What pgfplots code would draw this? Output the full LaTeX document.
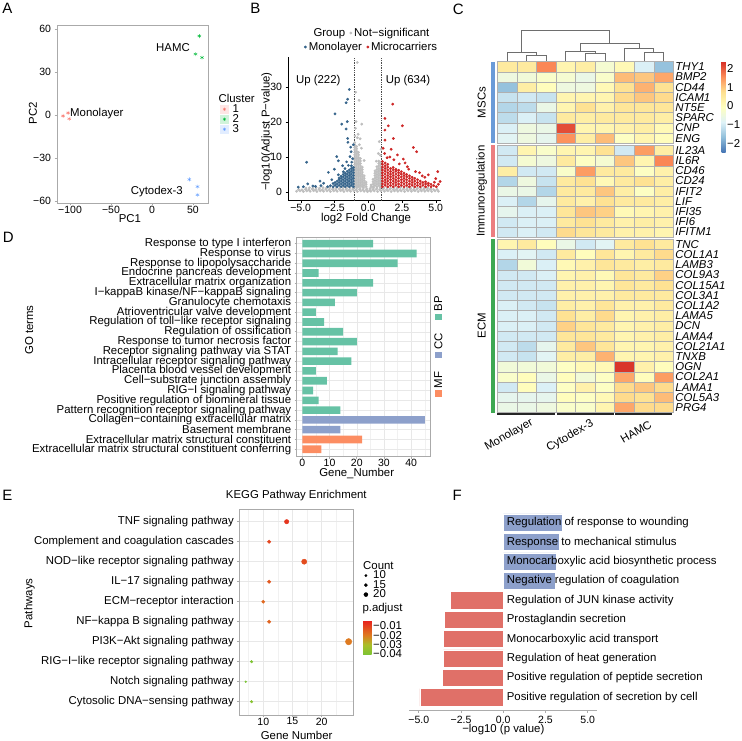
\documentclass[border=0pt]{standalone}
\usepackage{fontspec}
\setmainfont{Liberation Sans}
\usepackage{pgfplots}
\pgfplotsset{compat=1.18}
\newcommand\fs{\fontsize{11.4}{13}\selectfont}
\newcommand\ft{\fontsize{10.5}{12}\selectfont}
\newcommand\fL{\fontsize{15}{16}\selectfont}
\definecolor{gA1}{RGB}{248,118,109}
\definecolor{gA2}{RGB}{0,186,56}
\definecolor{gA3}{RGB}{97,156,255}
\definecolor{vgrey}{RGB}{190,190,190}
\definecolor{vblue}{RGB}{54,100,139}
\definecolor{vred}{RGB}{205,38,38}
\definecolor{bpc}{RGB}{102,194,165}
\definecolor{ccc}{RGB}{141,160,203}
\definecolor{mfc}{RGB}{252,141,98}
\definecolor{fblue}{RGB}{141,160,203}
\definecolor{fred}{RGB}{224,112,104}
\definecolor{gridc}{RGB}{232,232,232}
\definecolor{boxc}{RGB}{170,170,170}
\definecolor{mscc}{RGB}{106,155,216}
\definecolor{immc}{RGB}{236,126,128}
\definecolor{ecmc}{RGB}{62,168,82}
\definecolor{dendc}{RGB}{110,110,110}
\pgfdeclareplotmark{hcell}{\pgfpathrectangle{\pgfpoint{-9.78pt}{-5.1pt}}{\pgfpoint{19.56pt}{10.2pt}}\pgfusepathqfillstroke}
\pgfplotsset{every axis/.append style={scale only axis, anchor=south west, enlargelimits=false,
  label style={font=\fs}, tick label style={font=\ft}, /pgf/number format/assume math mode=true,
  legend cell align=left}}
\begin{document}
\begin{tikzpicture}[font=\fs]
\useasboundingbox (0,0) rectangle (741pt,741pt);
\node[font=\fL] at (7.5pt,732.3pt) {A};
\node[font=\fL] at (255.3pt,732.3pt) {B};
\node[font=\fL] at (458.3pt,731.5pt) {C};
\node[font=\fL] at (8.3pt,503.3pt) {D};
\node[font=\fL] at (7.5pt,245.7pt) {E};
\node[font=\fL] at (457.2pt,245.2pt) {F};

% ---------------- A: PCA ----------------
\begin{axis}[at={(57pt,538pt)}, width=151pt, height=178pt,
  xmin=-115.9, xmax=68.3, ymin=-61.4, ymax=62.7,
  xtick={-100,-50,0,50}, xticklabels={−100,−50,0,50},
  ytick={-60,-30,0,30,60}, yticklabels={−60,−30,0,30,60},
  xticklabel style={inner sep=0.5pt},
  tick pos=left, tick align=outside, major tick length=2.5pt,
  axis line style={boxc, line width=0.6pt}, tick style={boxc, line width=0.6pt},
  xlabel={PC1}, ylabel={PC2},
  xlabel style={at={(axis description cs:0.483,-0.09)}, anchor=center},
  ylabel style={at={(axis description cs:-0.159,0.506)}, anchor=center},
  clip=false,
  legend style={at={(axis description cs:1.0795,0.609)}, anchor=north west, draw=none, fill=none, inner sep=0pt, row sep=1pt, column sep=4pt, nodes={inner sep=0pt, text height=7.5pt, text depth=1.5pt, font=\fs}},
]
\addlegendimage{empty legend}
\addlegendentry[yshift=3pt]{\hspace*{-14pt}Cluster}
\addplot[only marks, mark=asterisk, mark size=2pt, gA1, legend image code/.code={\fill[gA1!18] (0pt,-4pt) rectangle (8pt,4pt); \draw[gA1] plot[mark=asterisk, mark size=1.6pt] coordinates {(4pt,0pt)};}] coordinates {(-108.5,-0.7) (-102.4,1.4) (-101,-2.7)};
\addlegendentry{1}
\addplot[only marks, mark=asterisk, mark size=2pt, gA2, legend image code/.code={\fill[gA2!18] (0pt,-4pt) rectangle (8pt,4pt); \draw[gA2] plot[mark=asterisk, mark size=1.6pt] coordinates {(4pt,0pt)};}] coordinates {(57.7,55) (53,42.4) (61,40)};
\addlegendentry{2}
\addplot[only marks, mark=asterisk, mark size=2pt, gA3, legend image code/.code={\fill[gA3!18] (0pt,-4pt) rectangle (8pt,4pt); \draw[gA3] plot[mark=asterisk, mark size=1.6pt] coordinates {(4pt,0pt)};}] coordinates {(45.5,-45) (55.5,-50) (55.5,-55.7)};
\addlegendentry{3}
\node[anchor=west, inner sep=0pt] at (axis cs:-100,1.2) {Monolayer};
\node[anchor=east, inner sep=0pt] at (axis cs:46.3,47) {HAMC};
\node[anchor=east, inner sep=0pt] at (axis cs:37.8,-53.2) {Cytodex-3};
\end{axis}

% ---------------- B: volcano ----------------
\begin{axis}[at={(288pt,540.3pt)}, width=153pt, height=143.7pt,
  xmin=-5.94, xmax=5.39, ymin=-2.49, ymax=38.57,
  axis x line*=bottom, axis y line*=left, axis line style={-, black, line width=0.5pt},
  xtick={-5,-2.5,0,2.5,5}, xticklabels={−5.0,−2.5,0.0,2.5,5.0},
  ytick={0,10,20,30}, yticklabels={0,10,20,30},
  xticklabel style={inner sep=0.5pt},
  tick align=outside, major tick length=2.5pt, tick style={black},
  xlabel={log2 Fold Change}, ylabel={−log10(Adjust P−value)},
  xlabel style={at={(axis description cs:0.51,-0.1225)}, anchor=center},
  ylabel style={at={(axis description cs:-0.139,0.48)}, anchor=center},
  legend columns=2,
  legend style={at={(axis description cs:0.103,1.203)}, anchor=north west, draw=none, fill=none, inner sep=0pt, row sep=4pt, column sep=2pt, /tikz/every even column/.append style={column sep=4.4pt}, nodes={inner sep=0pt, text height=8pt, text depth=2pt, font=\fs}},
]
\addlegendimage{empty legend}
\addlegendentry{\hspace*{4.8pt}Group}
\addplot[only marks, mark=*, mark size=1.2pt, vgrey, legend image code/.code={\path[draw=none, fill=none] (0pt,-1.2pt) rectangle (2.4pt,1.2pt); \fill[vgrey, overlay] (-15.8pt,0pt) circle (1.2pt);}] coordinates {
(-5.3,0.2) (-5.05,0.3) (-4.8,0.15) (-4.55,0.3) (-4.3,0.2) (-4.05,0.35) (-3.8,0.15) (-3.55,0.3) (-3.3,0.2) (-3.05,0.3) (-2.8,0.15) (-2.55,0.3) (-2.3,0.2) (-2.05,0.35) (-1.8,0.15) (-1.55,0.3) (-1.3,0.2) (-1.05,0.3) (-0.8,0.15) (-0.55,0.3) (-0.3,0.2) (-0.05,0.1) (0.2,0.2) (0.45,0.3) (0.7,0.15) (0.95,0.3) (1.2,0.2) (1.45,0.35) (1.7,0.15) (1.95,0.3) (2.2,0.2) (2.45,0.3) (2.7,0.15) (2.95,0.3) (3.2,0.2) (3.45,0.35) (3.7,0.15) (3.95,0.3) (4.2,0.2) (4.45,0.3) (4.7,0.15) (4.95,0.3) (5.2,0.2)
(-5.15,0.7) (-4.9,0.6) (-4.65,0.75) (-4.4,0.65) (-4.15,0.8) (-3.9,0.65) (-3.65,0.75) (-3.4,0.6) (-3.15,0.8) (-2.9,0.65) (-2.65,0.75) (-2.4,0.65) (-2.15,0.8) (-1.9,0.65) (-1.65,0.75) (-1.4,0.6) (-1.15,0.8) (-0.9,0.65) (-0.65,0.75) (-0.4,0.65) (-0.15,0.6) (0.1,0.5) (0.35,0.7) (0.6,0.8) (0.85,0.65) (1.1,0.75) (1.35,0.6) (1.6,0.8) (1.85,0.65) (2.1,0.75) (2.35,0.6) (2.6,0.8) (2.85,0.65) (3.1,0.75) (3.35,0.6) (3.6,0.8) (3.85,0.65) (4.1,0.75) (4.35,0.6) (4.6,0.75) (4.85,0.65) (5.1,0.7)
(-4.6,1.1) (-4.35,1.2) (-4.1,1.05) (-3.85,1.2) (-3.6,1.1) (-3.35,1.25) (-3.1,1.1) (-2.85,1.2) (-2.6,1.05) (-2.35,1.2) (-2.1,1.1) (-1.85,1.25) (-1.6,1.1) (-1.35,1.2) (-1.1,1.05) (-0.85,1.2) (-0.6,1.1) (-0.35,1.2) (-0.1,0.9) (0.15,1.0) (0.4,1.2) (0.65,1.1) (0.9,1.25) (1.15,1.1) (1.4,1.2) (1.65,1.05) (1.9,1.2) (2.15,1.1) (2.4,1.25) (2.65,1.1) (2.9,1.2) (3.15,1.05) (3.4,1.2) (3.65,1.1) (3.9,1.2) (4.15,1.05) (4.4,1.15) (4.65,1.0)
};
\addlegendentry{\hspace*{-17pt}Not−significant}
\addplot[forget plot, only marks, mark=*, mark size=1.2pt, vgrey] coordinates {
(-1.0,1.5) (-1.0,2.2) (-1.0,2.9) (-1.0,3.6) (-1.0,4.3) (-1.0,5.0) (-1.0,5.7) (-1.0,6.4) (-1.0,7.1) (-1.0,7.8) (-1.0,8.5) (-1.0,9.2) (-1.0,9.9) (-1.0,10.6) (-1.0,11.3) (-1.0,12.0) (-1.0,12.7) (-1.0,13.4) (-1.0,14.1)
(-0.86,1.85) (-0.86,2.55) (-0.86,3.25) (-0.86,3.95) (-0.86,4.65) (-0.86,5.35) (-0.86,6.05) (-0.86,6.75) (-0.86,7.45) (-0.86,8.15) (-0.86,8.85) (-0.86,9.55) (-0.86,10.25) (-0.86,10.95) (-0.86,11.65) (-0.86,12.35) (-0.86,13.0)
(-0.72,1.5) (-0.72,2.2) (-0.72,2.9) (-0.72,3.6) (-0.72,4.3) (-0.72,5.0) (-0.72,5.7) (-0.72,6.4) (-0.72,7.1) (-0.72,7.8) (-0.72,8.5) (-0.72,9.2) (-0.72,9.9) (-0.72,10.6) (-0.72,11.3)
(-0.58,1.85) (-0.58,2.55) (-0.58,3.25) (-0.58,3.95) (-0.58,4.65) (-0.58,5.35) (-0.58,6.05) (-0.58,6.75) (-0.58,7.45) (-0.58,8.15) (-0.58,8.85) (-0.58,9.55)
(-0.44,1.5) (-0.44,2.2) (-0.44,2.9) (-0.44,3.6) (-0.44,4.3) (-0.44,5.0) (-0.44,5.7) (-0.44,6.4) (-0.44,7.1)
(-0.3,1.85) (-0.3,2.55) (-0.3,3.25) (-0.3,3.95) (-0.3,4.6)
(-0.16,1.5) (-0.16,2.2) (-0.16,2.8)
(0.22,1.5) (0.22,2.0)
(0.36,1.5) (0.36,2.2) (0.36,2.9) (0.36,3.6)
(0.5,1.85) (0.5,2.55) (0.5,3.25) (0.5,3.95) (0.5,4.65) (0.5,5.35) (0.5,6.0)
(0.64,1.5) (0.64,2.2) (0.64,2.9) (0.64,3.6) (0.64,4.3) (0.64,5.0) (0.64,5.7) (0.64,6.4) (0.64,7.2)
(0.78,1.85) (0.78,2.55) (0.78,3.25) (0.78,3.95) (0.78,4.65) (0.78,5.35) (0.78,6.05) (0.78,6.75) (0.78,7.45) (0.78,8.15) (0.78,8.8)
(0.92,1.5) (0.92,2.2) (0.92,2.9) (0.92,3.6) (0.92,4.3) (0.92,5.0) (0.92,5.7) (0.92,6.4) (0.92,7.1) (0.92,7.8) (0.92,8.5)
(-0.81,37) (-0.93,28.5) (-0.68,26.2) (-0.9,20.1) (-0.48,19.4) (-0.95,18.2) (-0.75,16.5) (-0.6,15.2) (-0.98,16) (0.82,14.4) (0.75,11) (0.9,10.5) (-0.3,9) (-0.5,12.5) (-0.8,15.5) (-0.65,13.5) (0.6,8.8) (0.95,12.2)
};
\addplot[only marks, mark=*, mark size=1.2pt, vblue, legend image code/.code={\path[draw=none, fill=none] (0pt,-1.2pt) rectangle (2.4pt,1.2pt); \fill[vblue] (1.2pt,0pt) circle (1.2pt);}] coordinates {
(-1.1,1.5) (-1.1,2.3) (-1.1,3.1) (-1.1,3.9) (-1.1,4.7) (-1.1,5.5) (-1.1,6.3) (-1.1,7.0)
(-1.25,1.9) (-1.25,2.7) (-1.25,3.5) (-1.25,4.3) (-1.25,5.1) (-1.25,5.9) (-1.25,6.7) (-1.25,7.5)
(-1.4,1.5) (-1.4,2.3) (-1.4,3.1) (-1.4,3.9) (-1.4,4.7) (-1.4,5.5) (-1.4,6.3)
(-1.55,1.9) (-1.55,2.7) (-1.55,3.5) (-1.55,4.3) (-1.55,5.1) (-1.55,5.9)
(-1.7,1.5) (-1.7,2.3) (-1.7,3.1) (-1.7,3.9) (-1.7,4.7) (-1.7,5.4)
(-1.85,1.9) (-1.85,2.7) (-1.85,3.5) (-1.85,4.3) (-1.85,5.0)
(-2.0,1.5) (-2.0,2.3) (-2.0,3.1) (-2.0,3.9) (-2.0,4.5)
(-2.15,1.9) (-2.15,2.7) (-2.15,3.5) (-2.15,4.0)
(-2.3,1.5) (-2.3,2.3) (-2.3,3.1)
(-2.45,1.9) (-2.45,2.7) (-2.6,1.5) (-2.6,2.4) (-2.8,1.8) (-3.0,1.5)
};
\addlegendentry{Monolayer}
\addplot[forget plot, only marks, mark=*, mark size=1.2pt, vblue] coordinates {
(-1.40,29.3) (-1.52,26.5) (-1.64,25.5) (-2.46,22.3) (-1.55,20.1) (-1.96,19.4) (-1.64,18) (-1.52,15.3) (-1.5,14.2) (-4.56,8.5) (-2.33,10.1) (-2.21,8.9) (-1.27,11.5) (-1.35,10.1) (-2.95,5.6) (-3.57,3.1) (-4.48,2.3) (-5.18,1.4) (-3.9,1.6) (-2.21,4.9) (-1.84,5.8) (-1.72,6.7) (-1.47,7.6) (-1.22,8.5) (-1.15,9.5) (-1.3,12.8) (-2.7,3.5) (-3.3,2.5) (-3.5,1.8) (-4.1,1.7) (-4.8,1.5) (-2.5,6.5) (-1.9,7.5) (-1.6,8.6) (-1.1,13.5)
};
\addplot[only marks, mark=*, mark size=1.2pt, vred, legend image code/.code={\path[draw=none, fill=none] (0pt,-1.2pt) rectangle (2.4pt,1.2pt); \fill[vred] (1.2pt,0pt) circle (1.2pt);}] coordinates {
(1.05,1.5) (1.05,2.3) (1.05,3.1) (1.05,3.9) (1.05,4.7) (1.05,5.5) (1.05,6.3) (1.05,7.1) (1.05,7.9) (1.05,8.7)
(1.25,1.9) (1.25,2.7) (1.25,3.5) (1.25,4.3) (1.25,5.1) (1.25,5.9) (1.25,6.7) (1.25,7.5) (1.25,8.3)
(1.45,1.5) (1.45,2.3) (1.45,3.1) (1.45,3.9) (1.45,4.7) (1.45,5.5) (1.45,6.3) (1.45,7.1) (1.45,7.9)
(1.65,1.9) (1.65,2.7) (1.65,3.5) (1.65,4.3) (1.65,5.1) (1.65,5.9) (1.65,6.7)
(1.85,1.5) (1.85,2.3) (1.85,3.1) (1.85,3.9) (1.85,4.7) (1.85,5.5) (1.85,6.3) (1.85,7.0)
(2.05,1.9) (2.05,2.7) (2.05,3.5) (2.05,4.3) (2.05,5.1) (2.05,5.9) (2.05,6.5)
(2.25,1.5) (2.25,2.3) (2.25,3.1) (2.25,3.9) (2.25,4.7) (2.25,5.5) (2.25,6.2)
(2.45,1.9) (2.45,2.7) (2.45,3.5) (2.45,4.3) (2.45,5.1) (2.45,5.8)
(2.65,1.5) (2.65,2.3) (2.65,3.1) (2.65,3.9) (2.65,4.7) (2.65,5.4)
(2.85,1.9) (2.85,2.7) (2.85,3.5) (2.85,4.3) (2.85,5.0)
(3.05,1.5) (3.05,2.3) (3.05,3.1) (3.05,3.9) (3.05,4.6)
(3.25,1.9) (3.25,2.7) (3.25,3.5) (3.25,4.2)
(3.45,1.5) (3.45,2.3) (3.45,3.1) (3.45,3.9)
(3.65,1.9) (3.65,2.7) (3.65,3.5)
(3.85,1.5) (3.85,2.3) (3.85,3.1)
(4.05,1.9) (4.05,2.7) (4.25,1.5) (4.25,2.3) (4.25,2.9) (4.45,1.9) (4.45,2.5) (4.65,1.5) (4.65,2.2) (4.85,1.8) (5.05,1.5)
};
\addlegendentry{Microcarriers}
\addplot[forget plot, only marks, mark=*, mark size=1.2pt, vred] coordinates {
(1.81,25.1) (1.24,21) (1.49,18.9) (2.53,18.9) (1.24,17.7) (1.86,15.3) (1.24,14.8) (3.34,12.7) (3.59,11.5) (2.16,10.6) (1.22,11.0) (2.6,9.4) (2.73,8.3) (5.15,5.8) (4.45,4.9) (5.32,3.0) (1.6,10) (1.9,9.2) (2.3,8.0) (3.0,6.5) (3.8,5.5) (4.2,4.2) (5.0,3.8) (1.1,12.5) (1.4,9.8) (2.9,7.2) (3.5,5.8) (4.9,2.8) (5.2,2.2) (4.0,4.6) (1.7,12.2)
};
\addplot[forget plot, gray!60!black, line width=0.5pt, dash pattern=on 1.4pt off 1pt] coordinates {(-1,-2.49) (-1,38.57)};
\addplot[forget plot, gray!60!black, line width=0.5pt, dash pattern=on 1.4pt off 1pt] coordinates {(1,-2.49) (1,38.57)};
\node at (axis cs:-3.7,31.7) {Up (222)};
\node at (axis cs:2.95,31.7) {Up (634)};
\end{axis}

% ---------------- C: heatmap ----------------
\begin{axis}[at={(497.3pt,328.4pt)}, width=176pt, height=350.9pt,
  xmin=-0.5, xmax=8.5, ymin=-0.5, ymax=33.9, y dir=reverse,
  axis line style={draw=none}, xtick=\empty, clip=false,
  ytick={0,1,2,3,4,5,6,7,8.2,9.2,10.2,11.2,12.2,13.2,14.2,15.2,16.2,17.4,18.4,19.4,20.4,21.4,22.4,23.4,24.4,25.4,26.4,27.4,28.4,29.4,30.4,31.4,32.4,33.4},
  yticklabels={THY1,BMP2,CD44,ICAM1,NT5E,SPARC,CNP,ENG,IL23A,IL6R,CD46,CD24,IFIT2,LIF,IFI35,IFI6,IFITM1,TNC,COL1A1,LAMB3,COL9A3,COL15A1,COL3A1,COL1A2,LAMA5,DCN,LAMA4,COL21A1,TNXB,OGN,COL2A1,LAMA1,COL5A3,PRG4},
  yticklabel pos=right, major tick length=0pt, ytick style={draw=none},
  yticklabel style={font=\fs\itshape, inner sep=0pt, xshift=2pt},
  colormap={hm}{rgb255=(69,117,180) rgb255=(145,191,219) rgb255=(224,243,248) rgb255=(255,255,191) rgb255=(254,224,144) rgb255=(252,141,89) rgb255=(215,48,39)},
  point meta min=-2.45, point meta max=2.35,
  colorbar,
  colorbar style={at={(parent axis.north east)}, anchor=north west, xshift=39.7pt, width=4pt, height=90.6pt,
    ytick={-2,-1,0,1,2}, yticklabels={−2,−1,0,1,2}, yticklabel style={font=\fs, inner sep=1.5pt},
    major tick length=0pt, axis line style={draw=none}},
]
\addplot[scatter, only marks, mark=hcell, point meta=explicit, line width=0.45pt,
  scatter/use mapped color={draw=gray!62, fill=mapped color}] coordinates {
(0,0)[0.5] (1,0)[0.5] (2,0)[1.6] (3,0)[0.2] (4,0)[0.4] (5,0)[-0.3] (6,0)[0.1] (7,0)[-0.9] (8,0)[-1.6]
(0,1)[-0.5] (1,1)[-0.4] (2,1)[-0.2] (3,1)[-0.3] (4,1)[-0.6] (5,1)[-0.2] (6,1)[1.1] (7,1)[1.0] (8,1)[1.3]
(0,2)[-1.6] (1,2)[0.4] (2,2)[0.0] (3,2)[-0.5] (4,2)[-0.5] (5,2)[0.1] (6,2)[0.7] (7,2)[1.2] (8,2)[0.7]
(0,3)[-1.1] (1,3)[-1.0] (2,3)[-1.1] (3,3)[0.2] (4,3)[0.2] (5,3)[0.2] (6,3)[0.8] (7,3)[1.0] (8,3)[0.8]
(0,4)[-1.3] (1,4)[-1.2] (2,4)[-0.6] (3,4)[0.2] (4,4)[0.7] (5,4)[0.3] (6,4)[0.6] (7,4)[0.6] (8,4)[0.6]
(0,5)[-1.2] (1,5)[-0.9] (2,5)[-1.1] (3,5)[0.5] (4,5)[0.4] (5,5)[0.5] (6,5)[0.5] (7,5)[0.5] (8,5)[0.4]
(0,6)[-0.9] (1,6)[-0.5] (2,6)[-0.6] (3,6)[2.1] (4,6)[0.2] (5,6)[0.2] (6,6)[0.3] (7,6)[0.4] (8,6)[0.1]
(0,7)[-0.8] (1,7)[-0.5] (2,7)[-0.7] (3,7)[1.5] (4,7)[0.4] (5,7)[1.1] (6,7)[-0.1] (7,7)[0.2] (8,7)[0.0]
(0,8.2)[-1.0] (1,8.2)[0.2] (2,8.2)[-0.2] (3,8.2)[0.2] (4,8.2)[0.2] (5,8.2)[0.7] (6,8.2)[-1.0] (7,8.2)[1.4] (8,8.2)[0.4]
(0,9.2)[-1.0] (1,9.2)[-0.3] (2,9.2)[-0.5] (3,9.2)[0.5] (4,9.2)[-0.1] (5,9.2)[-0.3] (6,9.2)[1.0] (7,9.2)[0.2] (8,9.2)[1.6]
(0,10.2)[0.4] (1,10.2)[-1.0] (2,10.2)[-1.0] (3,10.2)[-0.2] (4,10.2)[1.4] (5,10.2)[0.5] (6,10.2)[0.5] (7,10.2)[-0.1] (8,10.2)[0.3]
(0,11.2)[-1.3] (1,11.2)[-0.5] (2,11.2)[-1.1] (3,11.2)[0.5] (4,11.2)[0.7] (5,11.2)[0.1] (6,11.2)[0.5] (7,11.2)[0.7] (8,11.2)[0.4]
(0,12.2)[-0.6] (1,12.2)[-0.6] (2,12.2)[-1.3] (3,12.2)[0.5] (4,12.2)[0.5] (5,12.2)[1.0] (6,12.2)[0.4] (7,12.2)[-0.1] (8,12.2)[0.4]
(0,13.2)[-0.9] (1,13.2)[-1.3] (2,13.2)[-0.7] (3,13.2)[0.5] (4,13.2)[0.3] (5,13.2)[0.7] (6,13.2)[0.5] (7,13.2)[0.5] (8,13.2)[0.4]
(0,14.2)[-0.7] (1,14.2)[-0.9] (2,14.2)[-0.9] (3,14.2)[0.6] (4,14.2)[1.0] (5,14.2)[0.9] (6,14.2)[0.1] (7,14.2)[0.2] (8,14.2)[0.3]
(0,15.2)[-1.0] (1,15.2)[-0.9] (2,15.2)[-0.9] (3,15.2)[0.5] (4,15.2)[0.7] (5,15.2)[0.5] (6,15.2)[0.3] (7,15.2)[0.4] (8,15.2)[0.3]
(0,16.2)[-1.0] (1,16.2)[-0.9] (2,16.2)[-1.0] (3,16.2)[0.8] (4,16.2)[0.6] (5,16.2)[0.5] (6,16.2)[0.3] (7,16.2)[0.3] (8,16.2)[0.2]
(0,17.4)[0.2] (1,17.4)[0.5] (2,17.4)[0.0] (3,17.4)[-0.6] (4,17.4)[-1.0] (5,17.4)[-0.8] (6,17.4)[0.5] (7,17.4)[0.7] (8,17.4)[0.5]
(0,18.4)[-0.9] (1,18.4)[-0.8] (2,18.4)[-1.0] (3,18.4)[0.5] (4,18.4)[0.0] (5,18.4)[0.6] (6,18.4)[0.2] (7,18.4)[0.5] (8,18.4)[0.8]
(0,19.4)[-1.3] (1,19.4)[-0.4] (2,19.4)[-0.9] (3,19.4)[0.1] (4,19.4)[0.3] (5,19.4)[0.6] (6,19.4)[0.5] (7,19.4)[0.4] (8,19.4)[0.5]
(0,20.4)[-1.0] (1,20.4)[-1.0] (2,20.4)[-0.9] (3,20.4)[0.2] (4,20.4)[0.3] (5,20.4)[0.1] (6,20.4)[0.6] (7,20.4)[0.5] (8,20.4)[0.9]
(0,21.4)[-1.0] (1,21.4)[-1.0] (2,21.4)[-1.0] (3,21.4)[0.3] (4,21.4)[0.3] (5,21.4)[0.2] (6,21.4)[0.6] (7,21.4)[0.5] (8,21.4)[0.7]
(0,22.4)[-1.0] (1,22.4)[-1.0] (2,22.4)[-1.0] (3,22.4)[0.3] (4,22.4)[0.3] (5,22.4)[0.3] (6,22.4)[0.5] (7,22.4)[0.5] (8,22.4)[0.5]
(0,23.4)[-0.9] (1,23.4)[-1.0] (2,23.4)[-1.1] (3,23.4)[0.4] (4,23.4)[0.3] (5,23.4)[0.6] (6,23.4)[0.3] (7,23.4)[0.3] (8,23.4)[0.5]
(0,24.4)[-0.9] (1,24.4)[-0.9] (2,24.4)[-1.0] (3,24.4)[0.7] (4,24.4)[0.4] (5,24.4)[0.8] (6,24.4)[0.2] (7,24.4)[0.3] (8,24.4)[0.4]
(0,25.4)[-0.9] (1,25.4)[-0.9] (2,25.4)[-1.0] (3,25.4)[0.9] (4,25.4)[0.6] (5,25.4)[0.5] (6,25.4)[0.2] (7,25.4)[0.3] (8,25.4)[0.4]
(0,26.4)[-1.0] (1,26.4)[-1.0] (2,26.4)[-1.0] (3,26.4)[0.6] (4,26.4)[0.6] (5,26.4)[0.5] (6,26.4)[0.2] (7,26.4)[0.3] (8,26.4)[0.4]
(0,27.4)[-1.0] (1,27.4)[-1.2] (2,27.4)[-0.7] (3,27.4)[0.5] (4,27.4)[1.0] (5,27.4)[0.6] (6,27.4)[0.2] (7,27.4)[0.2] (8,27.4)[0.3]
(0,28.4)[-1.0] (1,28.4)[-1.1] (2,28.4)[-0.8] (3,28.4)[0.4] (4,28.4)[0.4] (5,28.4)[1.2] (6,28.4)[0.2] (7,28.4)[0.2] (8,28.4)[0.3]
(0,29.4)[-0.4] (1,29.4)[-0.4] (2,29.4)[-0.4] (3,29.4)[-0.1] (4,29.4)[0.1] (5,29.4)[0.1] (6,29.4)[2.3] (7,29.4)[0.3] (8,29.4)[0.0]
(0,30.4)[-0.2] (1,30.4)[0.0] (2,30.4)[-0.6] (3,30.4)[0.0] (4,30.4)[-0.4] (5,30.4)[-0.1] (6,30.4)[1.3] (7,30.4)[0.0] (8,30.4)[1.4]
(0,31.4)[-1.0] (1,31.4)[0.0] (2,31.4)[-0.9] (3,31.4)[-0.1] (4,31.4)[0.3] (5,31.4)[-0.1] (6,31.4)[0.8] (7,31.4)[1.0] (8,31.4)[0.8]
(0,32.4)[-0.7] (1,32.4)[-0.7] (2,32.4)[-0.7] (3,32.4)[0.0] (4,32.4)[-0.1] (5,32.4)[0.1] (6,32.4)[0.8] (7,32.4)[0.7] (8,32.4)[1.1]
(0,33.4)[-0.6] (1,33.4)[-0.6] (2,33.4)[-0.5] (3,33.4)[-0.2] (4,33.4)[-0.2] (5,33.4)[0.2] (6,33.4)[1.3] (7,33.4)[0.8] (8,33.4)[0.8]
};
\addplot[forget plot, dendc, line width=0.6pt] coordinates {(1,-0.5) (1,-1.13) (2,-1.13) (2,-0.5)};
\addplot[forget plot, dendc, line width=0.6pt] coordinates {(0,-0.5) (0,-1.45) (1.5,-1.45) (1.5,-1.13)};
\addplot[forget plot, dendc, line width=0.6pt] coordinates {(4,-0.5) (4,-1.35) (5,-1.35) (5,-0.5)};
\addplot[forget plot, dendc, line width=0.6pt] coordinates {(3,-0.5) (3,-1.47) (4.5,-1.47) (4.5,-1.35)};
\addplot[forget plot, dendc, line width=0.6pt] coordinates {(7,-0.5) (7,-1.38) (8,-1.38) (8,-0.5)};
\addplot[forget plot, dendc, line width=0.6pt] coordinates {(6,-0.5) (6,-1.84) (7.5,-1.84) (7.5,-1.38)};
\addplot[forget plot, dendc, line width=0.6pt] coordinates {(3.75,-1.47) (3.75,-2.26) (6.75,-2.26) (6.75,-1.84)};
\addplot[forget plot, dendc, line width=0.6pt] coordinates {(0.75,-1.45) (0.75,-3.58) (5.25,-3.58) (5.25,-2.26)};
\addplot[forget plot, fill=mscc, draw=none] coordinates {(-0.837,-0.5) (-0.602,-0.5) (-0.602,7.5) (-0.837,7.5)} -- cycle;
\addplot[forget plot, fill=immc, draw=none] coordinates {(-0.837,7.7) (-0.602,7.7) (-0.602,16.7) (-0.837,16.7)} -- cycle;
\addplot[forget plot, fill=ecmc, draw=none] coordinates {(-0.837,16.9) (-0.602,16.9) (-0.602,33.9) (-0.837,33.9)} -- cycle;
\addplot[forget plot, black!85, line width=2pt] coordinates {(-0.5,34.07) (2.45,34.07)};
\addplot[forget plot, black!85, line width=2pt] coordinates {(2.54,34.07) (5.47,34.07)};
\addplot[forget plot, black!85, line width=2pt] coordinates {(5.53,34.07) (8.45,34.07)};
\node[rotate=90] at (axis cs:-1.30,3.5) {MSCs};
\node[rotate=90] at (axis cs:-1.30,12.2) {Immunoregulation};
\node[rotate=90] at (axis cs:-1.30,25.4) {ECM};
\node[rotate=30] at (axis cs:0.10,36.1) {Monolayer};
\node[rotate=30] at (axis cs:3.22,36.2) {Cytodex-3};
\node[rotate=30] at (axis cs:6.59,35.8) {HAMC};
\end{axis}

% ---------------- D: GO bars ----------------
\begin{axis}[at={(296.7pt,284.3pt)}, width=133.3pt, height=219pt,
  xmin=-2.06, xmax=46.9, ymin=-21.76, ymax=0.61,
  xbar, bar width=7.6pt,
  ytick={0,-1,...,-21},
  yticklabels={Response to type I interferon, Response to virus, Response to lipopolysaccharide, Endocrine pancreas development, Extracellular matrix organization, I−kappaB kinase/NF−kappaB signaling, Granulocyte chemotaxis, Atrioventricular valve development, Regulation of toll−like receptor signaling, Regulation of ossification, Response to tumor necrosis factor, Receptor signaling pathway via STAT, Intracellular receptor signaling pathway, Placenta blood vessel development, Cell−substrate junction assembly, RIG−I signaling pathway, Positive regulation of biomineral tissue, Pattern recognition receptor signaling pathway, Collagen−containing extracellular matrix, Basement membrane, Extracellular matrix structural constituent, Extracellular matrix structural constituent conferring},
  yticklabel style={font=\fs},
  xtick={0,10,20,30,40}, xticklabels={0,10,20,30,40}, minor xtick={5,15,25,35,45},
  xticklabel style={inner sep=0.5pt},
  grid=both, major grid style={gridc, line width=0.5pt}, minor grid style={gridc!60!white, line width=0.35pt},
  axis line style={boxc, line width=0.6pt}, tick style={boxc, line width=0.6pt},
  tick pos=left, tick align=outside, major tick length=2pt, minor tick length=0pt,
  xlabel={Gene\_Number}, ylabel={GO terms},
  xlabel style={at={(axis description cs:0.45,-0.076)}, anchor=center},
  ylabel style={at={(axis description cs:-2.006,0.5785)}, anchor=center},
  legend columns=1,
  legend style={at={(axis description cs:1.0315,0.7352)}, anchor=north west, draw=none, fill=none, inner sep=0pt, row sep=22pt, column sep=0pt, nodes={inner sep=0pt, text depth=0pt, font=\fs}},
]
\addplot[fill=bpc, draw=none, bar shift=0pt, legend image code/.code={\fill[bpc, overlay] (0.9pt,-16.8pt) rectangle (7.3pt,-10.4pt);}] coordinates {(26,0) (42,-1) (35,-2) (6,-3) (26,-4) (20,-5) (12,-6) (5,-7) (8,-8) (15,-9) (20,-10) (13,-11) (18,-12) (5,-13) (9,-14) (4,-15) (6,-16) (14,-17)};
\addlegendentry{\rotatebox{90}{BP}}
\addplot[fill=ccc, draw=none, bar shift=0pt, legend image code/.code={\fill[ccc, overlay] (0.9pt,-16.8pt) rectangle (7.3pt,-10.4pt);}] coordinates {(45,-18) (14,-19)};
\addlegendentry{\rotatebox{90}{CC}}
\addplot[fill=mfc, draw=none, bar shift=0pt, legend image code/.code={\fill[mfc, overlay] (0.9pt,-16.8pt) rectangle (7.3pt,-10.4pt);}] coordinates {(22,-20) (7,-21)};
\addlegendentry{\rotatebox{90}{MF}}
\end{axis}

% ---------------- E: KEGG dot plot ----------------
\begin{axis}[at={(239.3pt,26pt)}, width=114pt, height=205.7pt,
  xmin=5.9, xmax=25.4, ymin=-9.665, ymax=0.62,
  xtick={10,15,20}, xticklabels={10,15,20}, minor xtick={7.5,12.5,17.5,22.5},
  xticklabel style={inner sep=0.5pt},
  ytick={0,-1,...,-9},
  yticklabels={TNF signaling pathway, Complement and coagulation cascades, NOD−like receptor signaling pathway, IL−17 signaling pathway, ECM−receptor interaction, NF−kappa B signaling pathway, PI3K−Akt signaling pathway, RIG−I−like receptor signaling pathway, Notch signaling pathway, Cytosolic DNA−sensing pathway},
  yticklabel style={font=\fs},
  grid=both, major grid style={gridc, line width=0.5pt}, minor grid style={gridc!60!white, line width=0.35pt},
  axis line style={boxc, line width=0.6pt}, tick style={boxc, line width=0.6pt},
  tick pos=left, tick align=outside, major tick length=2pt, minor tick length=0pt,
  title={KEGG Pathway Enrichment}, title style={at={(axis description cs:0.5,1.037)}, anchor=center, font=\fs},
  xlabel={Gene Number}, ylabel={Pathways},
  xlabel style={at={(axis description cs:0.503,-0.097)}, anchor=center},
  ylabel style={at={(axis description cs:-1.842,0.543)}, anchor=center},
  colormap={padj}{rgb255(0cm)=(122,196,52) rgb255(1.1cm)=(170,190,40) rgb255(2.1cm)=(222,122,32) rgb255(3.7cm)=(232,30,30)},
  point meta min=-0.041, point meta max=-0.004,
  colorbar,
  colorbar style={at={(parent axis.north east)}, anchor=north west, xshift=1.4pt, yshift=-110.7pt, width=8.3pt, height=35pt,
    scaled y ticks=false,
    ytick={-0.04,-0.03,-0.02,-0.01}, yticklabels={−0.04,−0.03,−0.02,−0.01}, yticklabel style={font=\fs, inner sep=1.5pt},
    major tick length=0pt, axis line style={draw=none}},
  legend style={at={(axis description cs:1.0868,0.7467)}, anchor=north west, draw=none, fill=none, inner sep=0pt, row sep=0.5pt, column sep=4.8pt, nodes={inner sep=0pt, text height=7.5pt, text depth=1.5pt, font=\fs}},
]
\addplot[forget plot, scatter, only marks, mark=*, point meta=explicit,
  scatter/use mapped color={draw=mapped color, fill=mapped color},
  visualization depends on={value \thisrow{r}\as\rad},
  scatter/@pre marker code/.append style={/tikz/mark size=\rad pt}]
  table[x=x, y=y, meta=p] {
x y p r
14 0 -0.008 2.2
11 -1 -0.011 1.7
17 -2 -0.012 2.6
11 -3 -0.014 1.7
10 -4 -0.017 1.6
11 -5 -0.016 1.7
24.6 -6 -0.020 3.2
8 -7 -0.040 1.3
7 -8 -0.042 0.9
8 -9 -0.038 1.3
};
\addlegendimage{empty legend}
\addlegendentry[yshift=3.8pt]{\hspace*{-10pt}Count}
\addlegendimage{legend image code/.code={\path[draw=none, fill=none] (0pt,-2.5pt) rectangle (5pt,2.5pt); \fill[black] (2.5pt,0pt) circle (1.2pt);}}
\addlegendentry{10}
\addlegendimage{legend image code/.code={\path[draw=none, fill=none] (0pt,-2.5pt) rectangle (5pt,2.5pt); \fill[black] (2.5pt,0pt) circle (1.6pt);}}
\addlegendentry{15}
\addlegendimage{legend image code/.code={\path[draw=none, fill=none] (0pt,-2.5pt) rectangle (5pt,2.5pt); \fill[black] (2.5pt,0pt) circle (2.0pt);}}
\addlegendentry{20}
\end{axis}
\node[anchor=west, inner sep=0pt] at (362.3pt,132.7pt) {p.adjust};

% ---------------- F: diverging bars ----------------
\begin{axis}[at={(409.3pt,31pt)}, width=187.4pt, height=199pt,
  xmin=-5.56, xmax=5.53, ymin=-9.65, ymax=0.6,
  xbar, bar width=17.3pt,
  axis x line*=bottom, axis y line=none, axis line style={-, gray!65, line width=0.6pt},
  xtick={-5,-2.5,0,2.5,5}, xticklabels={−5.0,−2.5,0.0,2.5,5.0},
  tick align=outside, major tick length=2.5pt, tick style={gray!65, line width=0.6pt},
  ytick=\empty, clip=false,
  xlabel={−log10 (p value)}, xlabel style={at={(axis description cs:0.5016,-0.1005)}, anchor=center},
]
\addplot[fill=fblue, draw=white, line width=0.6pt, bar shift=0pt] coordinates {(3.49,0) (3.3,-1) (3.12,-2) (3.06,-3)};
\addplot[fill=fred, draw=white, line width=0.6pt, bar shift=0pt] coordinates {(-3.15,-4) (-3.5,-5) (-3.55,-6) (-3.55,-7) (-3.59,-8) (-4.93,-9)};
\node[anchor=west, inner sep=0pt, xshift=3.4pt] at (axis cs:0,0) {Regulation of response to wounding};
\node[anchor=west, inner sep=0pt, xshift=3.4pt] at (axis cs:0,-1) {Response to mechanical stimulus};
\node[anchor=west, inner sep=0pt, xshift=3.4pt] at (axis cs:0,-2) {Monocarboxylic acid biosynthetic process};
\node[anchor=west, inner sep=0pt, xshift=3.4pt] at (axis cs:0,-3) {Negative regulation of coagulation};
\node[anchor=west, inner sep=0pt, xshift=3.4pt] at (axis cs:0,-4) {Regulation of JUN kinase activity};
\node[anchor=west, inner sep=0pt, xshift=3.4pt] at (axis cs:0,-5) {Prostaglandin secretion};
\node[anchor=west, inner sep=0pt, xshift=3.4pt] at (axis cs:0,-6) {Monocarboxylic acid transport};
\node[anchor=west, inner sep=0pt, xshift=3.4pt] at (axis cs:0,-7) {Regulation of heat generation};
\node[anchor=west, inner sep=0pt, xshift=3.4pt] at (axis cs:0,-8) {Positive regulation of peptide secretion};
\node[anchor=west, inner sep=0pt, xshift=3.4pt] at (axis cs:0,-9) {Positive regulation of secretion by cell};
\end{axis}
\end{tikzpicture}
\end{document}
